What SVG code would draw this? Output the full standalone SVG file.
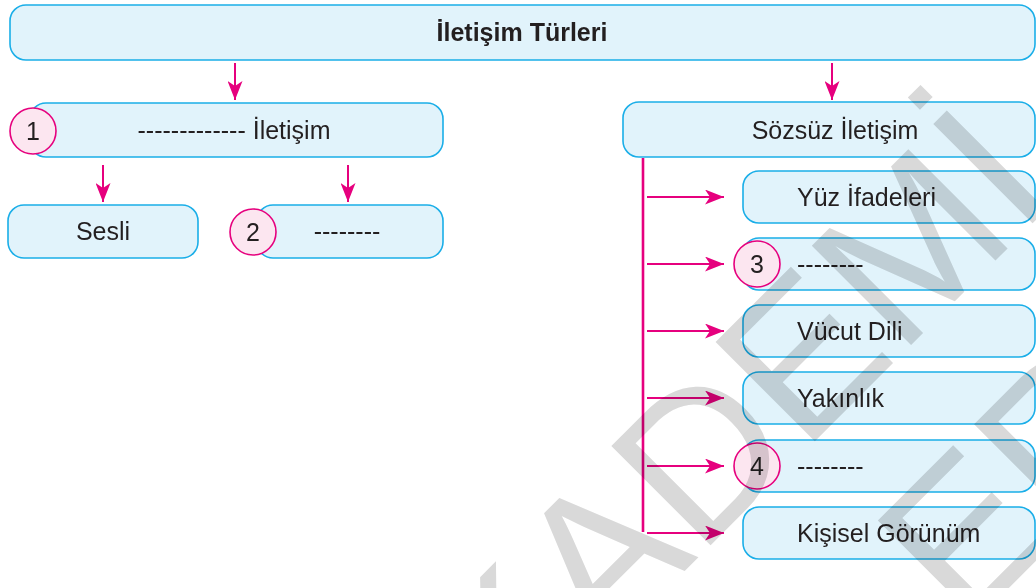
<svg xmlns="http://www.w3.org/2000/svg" width="1036" height="588" viewBox="0 0 1036 588">
<style>
.box{fill:#e1f3fb;stroke:#1aaee8;stroke-width:1.6}
.num{fill:#fce6f0;stroke:#e6007e;stroke-width:1.6}
.t{font-family:"Liberation Sans",Arial,sans-serif;font-size:25px;fill:#231f20}
.c{text-anchor:middle}
.b{font-weight:bold}
.ln{stroke:#e6007e;stroke-width:2;fill:none}
.wm{font-family:"Liberation Sans",Arial,sans-serif;font-size:204px;fill:#d9d9d9;mix-blend-mode:multiply}
</style>
<defs>
<marker id="ah" markerUnits="userSpaceOnUse" markerWidth="19" markerHeight="15" refX="19" refY="7.5" orient="auto">
<path d="M0,0 L19,7.5 L0,15 L5,7.5 Z" fill="#e6007e"/>
</marker>
</defs>
<rect width="1036" height="588" fill="#ffffff"/>
<g id="connectors">
<line class="ln" x1="235" y1="63" x2="235" y2="100" marker-end="url(#ah)"/>
<line class="ln" x1="832" y1="63" x2="832" y2="100" marker-end="url(#ah)"/>
<line class="ln" x1="103" y1="165" x2="103" y2="202" marker-end="url(#ah)"/>
<line class="ln" x1="348" y1="165" x2="348" y2="202" marker-end="url(#ah)"/>
<line class="ln" x1="643" y1="158" x2="643" y2="532" style="stroke-width:2.6"/>
<line class="ln" x1="647" y1="197" x2="724" y2="197" marker-end="url(#ah)"/>
<line class="ln" x1="647" y1="264" x2="724" y2="264" marker-end="url(#ah)"/>
<line class="ln" x1="647" y1="331" x2="724" y2="331" marker-end="url(#ah)"/>
<line class="ln" x1="647" y1="398" x2="724" y2="398" marker-end="url(#ah)"/>
<line class="ln" x1="647" y1="466" x2="724" y2="466" marker-end="url(#ah)"/>
<line class="ln" x1="647" y1="533" x2="724" y2="533" marker-end="url(#ah)"/>
</g>
<g id="iletisim-turleri">
<rect class="box" x="10" y="5" width="1025" height="55" rx="16"/>
<text class="t c b" x="522" y="41">İletişim Türleri</text>
</g>
<g id="sozlu">
<rect class="box" x="30" y="103" width="413" height="54" rx="16"/>
<circle class="num" cx="33" cy="131" r="23"/>
<text class="t c" x="33" y="140">1</text>
<text class="t c" x="234" y="139">------------- İletişim</text>
</g>
<g id="sesli">
<rect class="box" x="8" y="205" width="190" height="53" rx="16"/>
<text class="t c" x="103" y="240">Sesli</text>
</g>
<g id="sessiz">
<rect class="box" x="257" y="205" width="186" height="53" rx="16"/>
<circle class="num" cx="253" cy="232" r="23"/>
<text class="t c" x="253" y="241">2</text>
<text class="t c" x="347" y="240">--------</text>
</g>
<g id="sozsuz">
<rect class="box" x="623" y="102" width="412" height="55" rx="16"/>
<text class="t c" x="835" y="139">Sözsüz İletişim</text>
</g>
<g id="yuz">
<rect class="box" x="743" y="171" width="292" height="52" rx="16"/>
<text class="t" x="797" y="206">Yüz İfadeleri</text>
</g>
<g id="bos3">
<rect class="box" x="743" y="238" width="292" height="52" rx="16"/>
<circle class="num" cx="757" cy="264" r="23"/>
<text class="t c" x="757" y="273">3</text>
<text class="t" x="797" y="273">--------</text>
</g>
<g id="vucut">
<rect class="box" x="743" y="305" width="292" height="52" rx="16"/>
<text class="t" x="797" y="340">Vücut Dili</text>
</g>
<g id="yakinlik">
<rect class="box" x="743" y="372" width="292" height="52" rx="16"/>
<text class="t" x="797" y="407">Yakınlık</text>
</g>
<g id="bos4">
<rect class="box" x="743" y="440" width="292" height="52" rx="16"/>
<circle class="num" cx="757" cy="466" r="23"/>
<text class="t c" x="757" y="475">4</text>
<text class="t" x="797" y="475">--------</text>
</g>
<g id="kisisel">
<rect class="box" x="743" y="507" width="292" height="52" rx="16"/>
<text class="t" x="797" y="542">Kişisel Görünüm</text>
</g>
<g id="watermark" transform="rotate(-45)">
<text class="wm" x="-308" y="888">AKADEMİ</text>
<text class="wm" x="236" y="1129">ER</text>
</g>
</svg>
